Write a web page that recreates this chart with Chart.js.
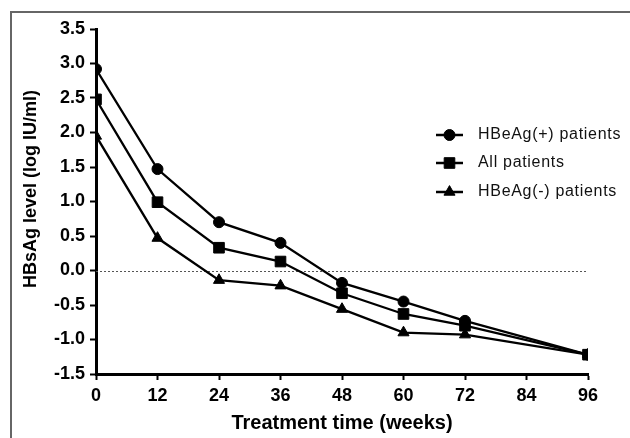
<!DOCTYPE html>
<html>
<head>
<meta charset="utf-8">
<script src="https://cdn.jsdelivr.net/npm/chart.js@4/dist/chart.umd.min.js"></script>
<style>
  body { margin: 0; background: #fff; }
  #wrap { width: 630px; height: 438px; }
</style>
</head>
<body>
<div id="wrap"><canvas id="hbsChart" width="630" height="438"></canvas></div>
<script>
// weeks and HBsAg levels
const weeks = [0, 12, 24, 36, 48, 60, 72, 96];
const hbeagPos = [2.92, 1.47, 0.70, 0.40, -0.18, -0.45, -0.73, -1.22];
const allPatients = [2.48, 0.99, 0.33, 0.13, -0.33, -0.63, -0.80, -1.22];
const hbeagNeg = [1.95, 0.47, -0.14, -0.22, -0.56, -0.90, -0.93, -1.22];
const seriesLabels = ['HBeAg(+) patients', 'All patients', 'HBeAg(-) patients'];
const markers = ['circle', 'rect', 'triangle'];
const markerSizes = [5.5, 7.5, 6.4];

const FONT = '"Liberation Sans", Arial, sans-serif';
const toPoints = vals => weeks.map((w, i) => ({ x: w, y: vals[i] }));

// frame lines, y title and dotted zero line
const decorPlugin = {
  id: 'decor',
  beforeDraw(chart) {
    const c = chart.ctx;
    c.save();
    c.strokeStyle = '#666';
    c.lineWidth = 2;
    c.beginPath();
    c.moveTo(11, 438);
    c.lineTo(11, 12);
    c.lineTo(630, 12);
    c.stroke();
    // y axis title (sits a bit above the plot centre in the original)
    c.translate(31, 189);
    c.rotate(-Math.PI / 2);
    c.fillStyle = '#000';
    c.font = 'bold 18px ' + FONT;
    c.textAlign = 'center';
    c.textBaseline = 'middle';
    c.fillText('HBsAg level (log IU/ml)', 0, 0);
    c.restore();
  },
  beforeDatasetsDraw(chart) {
    const c = chart.ctx;
    const y = chart.scales.y.getPixelForValue(0);
    const area = chart.chartArea;
    c.save();
    c.strokeStyle = '#555';
    c.lineWidth = 1;
    c.setLineDash([2, 2]);
    c.beginPath();
    c.moveTo(area.left, Math.round(y) + 0.5);
    c.lineTo(area.right, Math.round(y) + 0.5);
    c.stroke();
    c.restore();
  }
};

// legend drawn inside the plot, like the original figure
const legendPlugin = {
  id: 'insideLegend',
  afterDraw(chart) {
    const c = chart.ctx;
    const rows = [135, 163, 192];
    c.save();
    chart.data.datasets.forEach((ds, i) => {
      const y = rows[i];
      c.strokeStyle = '#000';
      c.lineWidth = 2.5;
      c.beginPath();
      c.moveTo(436, y);
      c.lineTo(463, y);
      c.stroke();
      c.fillStyle = '#000';
      c.lineWidth = 1;
      Chart.helpers.drawPoint(c, { pointStyle: ds.pointStyle, radius: ds.pointRadius, rotation: 0, borderWidth: 1 }, 449.5, y);
      c.fillStyle = '#111';
      c.font = '16px ' + FONT;
      c.letterSpacing = '0.7px';
      c.textBaseline = 'middle';
      c.fillText(ds.label, 478, y);
    });
    c.restore();
  }
};

const seriesData = [hbeagPos, allPatients, hbeagNeg];

new Chart(document.getElementById('hbsChart'), {
  type: 'line',
  data: {
    datasets: seriesData.map((vals, i) => ({
      label: seriesLabels[i],
      data: toPoints(vals),
      borderColor: '#000',
      backgroundColor: '#000',
      borderWidth: 2.3,
      pointStyle: markers[i],
      pointRadius: markerSizes[i],
      pointBorderWidth: 1,
      tension: 0
    }))
  },
  options: {
    responsive: false,
    animation: false,
    layout: { padding: { top: 29, right: 42, left: 0, bottom: 0 } },
    plugins: {
      legend: { display: false },
      tooltip: { enabled: false }
    },
    scales: {
      x: {
        type: 'linear',
        min: 0,
        max: 96,
        afterFit: s => { s.height = 64; },
        ticks: {
          stepSize: 12,
          color: '#000',
          padding: 5,
          font: { family: FONT, size: 18, weight: 'bold' }
        },
        grid: { drawOnChartArea: false, drawTicks: true, tickLength: 6, tickWidth: 2, tickColor: '#000' },
        border: { color: '#000', width: 3 },
        title: {
          display: true,
          text: 'Treatment time (weeks)',
          color: '#000',
          padding: { top: 0, bottom: 3 },
          font: { family: FONT, size: 20, weight: 'bold' }
        }
      },
      y: {
        min: -1.5,
        max: 3.5,
        afterFit: s => { s.width = 96; },
        ticks: {
          stepSize: 0.5,
          color: '#000',
          padding: 5,
          callback: v => v.toFixed(1),
          font: { family: FONT, size: 18, weight: 'bold' }
        },
        grid: { drawOnChartArea: false, drawTicks: true, tickLength: 6, tickWidth: 2, tickColor: '#000' },
        border: { color: '#000', width: 3 }
      }
    }
  },
  plugins: [decorPlugin, legendPlugin]
});
</script>
</body>
</html>
